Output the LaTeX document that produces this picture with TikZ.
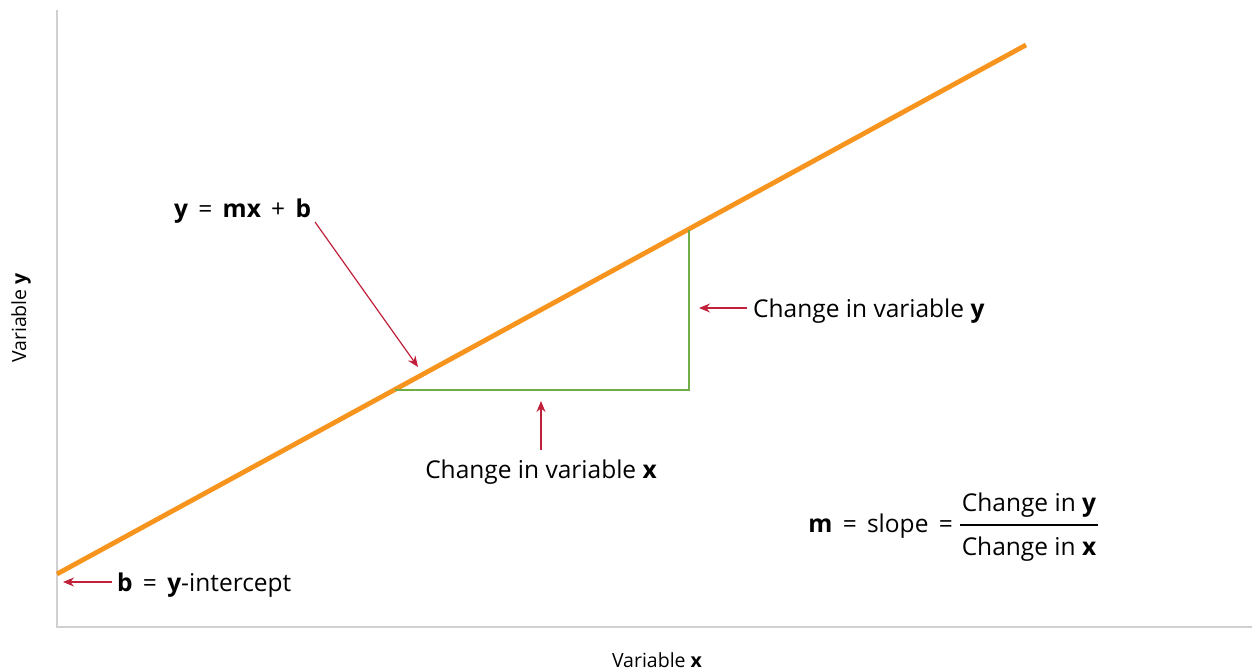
\documentclass[tikz,border=0pt]{standalone}
\usepackage{fontspec}
\setmainfont{Open Sans}
\usetikzlibrary{arrows.meta}
\definecolor{axisgray}{HTML}{D0D0D0}
\definecolor{lineorange}{HTML}{F7941D}
\definecolor{stepgreen}{HTML}{70AD47}
\definecolor{arrowred}{HTML}{C0203A}
\newcommand\eqsp{\hspace{0.42em}}
\tikzset{
  axisline/.style={draw=axisgray, line width=1.3pt},
  fitline/.style={draw=lineorange, line width=4.8pt},
  stepline/.style={draw=stepgreen, line width=1.3pt},
  pointer/.style={draw=arrowred, line width=1.2pt, -{Stealth[length=11pt,width=9pt]}},
  lbl/.style={inner sep=0pt, font=\fontsize{24.5}{28}\selectfont},
  axlbl/.style={inner sep=0pt, font=\fontsize{19.5}{23}\selectfont},
}
\begin{document}
\begin{tikzpicture}[x=1pt,y=-1pt]
\useasboundingbox (0,0) rectangle (1252,671);
% axes
\coordinate (otop) at (57,10);
\coordinate (origin) at (57,627);
\coordinate (xend) at (1252,627);
\draw[axisline] (otop) -- (origin) -- (xend);
% fit line
\coordinate (lstart) at (57,574);
\coordinate (lend) at (1026,45);
\draw[fitline] (lstart) -- (lend);
% step triangle
\coordinate (sA) at (395,390);
\coordinate (sB) at (689,390);
\coordinate (sC) at (689,230);
\draw[stepline] (sA) -- (sB) -- (sC);
% labels
\node[lbl, anchor=base west] (eq) at (174,218) {\textbf{y}\eqsp=\eqsp\textbf{mx}\eqsp+\eqsp\textbf{b}};
\coordinate (eqtail) at (315,222);
\coordinate (eqhead) at (418,367);
\draw[pointer] (eqtail) -- (eqhead);

\node[lbl, anchor=base west] (dy) at (753,317) {Change in variable \textbf{y}};
\coordinate (dytail) at (747,308);
\coordinate (dyhead) at (699,308);
\draw[pointer] (dytail) -- (dyhead);

\node[lbl, anchor=base] (dx) at (541,478) {Change in variable \textbf{x}};
\coordinate (dxtail) at (541,450);
\coordinate (dxhead) at (541,401);
\draw[pointer] (dxtail) -- (dxhead);

\node[lbl, anchor=base west] (bint) at (117,591) {\textbf{b}\eqsp=\eqsp\textbf{y}-intercept};
\coordinate (btail) at (112,582);
\coordinate (bhead) at (63,582);
\draw[pointer] (btail) -- (bhead);

\node[lbl, anchor=base east] (slope) at (953,532) {\textbf{m}\eqsp=\eqsp slope\eqsp=};
\node[lbl, anchor=base] (num) at (1029,511) {Change in \textbf{y}};
\node[lbl, anchor=base] (den) at (1029,555) {Change in \textbf{x}};
\coordinate (fracl) at (960,525);
\coordinate (fracr) at (1098,525);
\draw[line width=1.2pt] (fracl) -- (fracr);

\node[axlbl, anchor=base] (xlab) at (657,667) {Variable \textbf{x}};
\node[axlbl, rotate=90, anchor=base] (ylab) at (26,318) {Variable \textbf{y}};
\end{tikzpicture}
\end{document}
